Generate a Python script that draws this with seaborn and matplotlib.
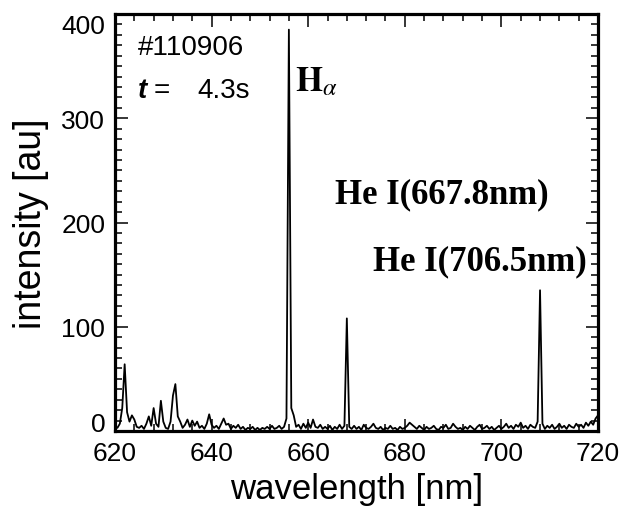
import numpy as np
import pandas as pd
import matplotlib
matplotlib.use("Agg")
import matplotlib.pyplot as plt
import seaborn as sns
from matplotlib.ticker import MultipleLocator

# ---- data ----
wavelength = np.arange(620.0, 720.01, 0.5)   # sampling grid, nm
intensity = [
    5, 3, 7, 22, 64, 18, 9, 15, 11, 4,        # 620.0-624.5
    3, 5, 2, 7, 14, 5, 22, 7, 4, 29,          # 625.0-629.5
    9, 3, 2, 9, 34, 45, 14, 9, 3, 6,          # 630.0-634.5
    11, 4, 10, 5, 9, 3, 5, 2, 7, 16,          # 635.0-639.5
    6, 3, 5, 2, 7, 12, 6, 7, 2, 5,            # 640.0-644.5
    3, 6, 2, 4, 1, 3, 2, 4, 1, 3,             # 645.0-649.5
    1, 3, 2, 4, 2, 5, 2, 3, 5, 2,             # 650.0-654.5
    4, 12, 385, 22, 15, 4, 6, 2, 7, 3,        # 655.0-659.5
    8, 3, 11, 4, 3, 6, 2, 4, 2, 5,            # 660.0-664.5
    1, 4, 2, 6, 2, 5, 108, 4, 2, 5,           # 665.0-669.5
    2, 4, 1, 6, 3, 2, 4, 7, 3, 2,             # 670.0-674.5
    4, 1, 3, 2, 5, 2, 3, 1, 4, 2,             # 675.0-679.5
    3, 5, 8, 6, 4, 2, 5, 3, 1, 4,             # 680.0-684.5
    2, 3, 5, 2, 1, 4, 3, 6, 2, 3,             # 685.0-689.5
    7, 4, 2, 3, 1, 4, 2, 5, 3, 1,             # 690.0-694.5
    4, 6, 2, 3, 5, 2, 4, 1, 3, 5,             # 695.0-699.5
    2, 4, 7, 3, 5, 2, 6, 4, 8, 3,             # 700.0-704.5
    5, 2, 6, 4, 3, 9, 135, 7, 2, 5,           # 705.0-709.5
    3, 6, 2, 4, 7, 3, 5, 2, 6, 4,             # 710.0-714.5
    3, 7, 4, 6, 3, 8, 5, 9, 6, 12,            # 715.0-719.5
    15,                                       # 720.0
]
x_ticks = [620, 640, 660, 680, 700, 720]
y_ticks = [0, 100, 200, 300, 400]
shot_label = "#110906"
time_label = "4.3s"
halpha_label = r"$\mathbf{H}_{\alpha}$"
he_labels = ["He I(667.8nm)", "He I(706.5nm)"]

# ---- style ----
sns.set_theme(style="ticks")
plt.rcParams["font.family"] = ["Liberation Sans", "DejaVu Sans"]
plt.rcParams["mathtext.fontset"] = "stix"
plt.rcParams["text.color"] = "black"
plt.rcParams["axes.labelcolor"] = "black"
plt.rcParams["xtick.color"] = "black"
plt.rcParams["ytick.color"] = "black"

W, H = 622, 510
fig = plt.figure(figsize=(W / 100, H / 100), dpi=100)
L, R, T, B = 115, 598, 15, 432
ax = fig.add_axes([L / W, 1 - B / H, (R - L) / W, (B - T) / H])

df = pd.DataFrame({"wavelength": wavelength, "intensity": intensity})
sns.lineplot(data=df, x="wavelength", y="intensity", color="black",
             linewidth=1.3, estimator=None, ax=ax)

ax.set_xlim(620, 720)
ax.set_ylim(0, 400)
ax.set_xticks(x_ticks)
ax.set_yticks(y_ticks)
ax.xaxis.set_minor_locator(MultipleLocator(4))
ax.yaxis.set_minor_locator(MultipleLocator(10))
ax.tick_params(which="both", direction="in", top=True, right=True,
               colors="black", labelcolor="black", width=1.1)
ax.tick_params(which="major", length=9, labelsize=19, pad=7)
ax.tick_params(which="minor", length=5)
for s in ax.spines.values():
    s.set_linewidth(2.3)
    s.set_color("black")

ylabels = ax.get_yticklabels()
ylabels[0].set_va("baseline")
ylabels[-1].set_va("top")

ax.set_xlabel("wavelength [nm]", fontsize=25, labelpad=5, color="black")
ax.set_ylabel("intensity [au]", fontsize=27, labelpad=9, color="black")


def fx(x):
    return x / W


def fy(y):
    return 1 - y / H


fig.text(fx(138), fy(55), shot_label, fontsize=20, ha="left", va="baseline")
fig.text(fx(138), fy(98), "t", fontsize=20, fontweight="bold", fontstyle="italic",
         ha="left", va="baseline")
fig.text(fx(154), fy(98), "=", fontsize=20, ha="left", va="baseline")
fig.text(fx(197), fy(98), time_label, fontsize=20, ha="left", va="baseline")
fig.text(fx(295), fy(91), halpha_label, fontsize=25, ha="left", va="baseline")
fig.text(fx(335), fy(203), he_labels[0], fontsize=25, fontweight="bold",
         family="Liberation Serif", ha="left", va="baseline")
fig.text(fx(373), fy(270), he_labels[1], fontsize=25, fontweight="bold",
         family="Liberation Serif", ha="left", va="baseline")

fig.savefig("out.png", dpi=100)
